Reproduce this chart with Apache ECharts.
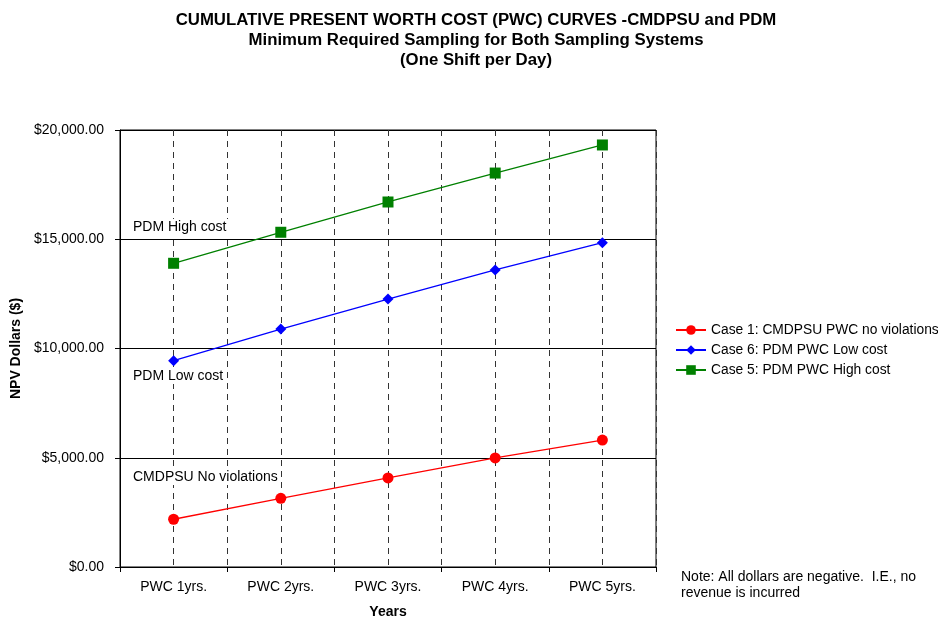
<!DOCTYPE html>
<html><head><meta charset="utf-8">
<script src="https://cdn.jsdelivr.net/npm/echarts@6/dist/echarts.min.js"></script>
<style>html,body{margin:0;padding:0;background:#fff}#c{width:938px;height:620px}</style>
</head><body><div id="c"></div>
<script>
const categories = ['PWC 1yrs.', 'PWC 2yrs.', 'PWC 3yrs.', 'PWC 4yrs.', 'PWC 5yrs.'];
const case1 = [2185, 3145, 4075, 4990, 5810];
const case6 = [9445, 10890, 12265, 13595, 14845];
const case5 = [13900, 15320, 16705, 18030, 19315];
const seriesNames = ['Case 1: CMDPSU PWC no violations', 'Case 6: PDM PWC Low cost', 'Case 5: PDM PWC High cost'];
const yTicks = [0, 5000, 10000, 15000, 20000];

const F = 'Liberation Sans, Arial, sans-serif';
const FS = 14;
const chart = echarts.init(document.getElementById('c'));
chart.setOption({
  backgroundColor: '#fff',
  animation: false,
  title: {
    text: 'CUMULATIVE PRESENT WORTH COST (PWC) CURVES -CMDPSU and PDM\nMinimum Required Sampling for Both Sampling Systems\n(One Shift per Day)',
    left: 471, top: 5, textAlign: 'center',
    textStyle: { fontFamily: F, fontSize: 16.8, fontWeight: 'bold', color: '#000', lineHeight: 20 }
  },
  grid: { left: 120, right: 282, top: 130, bottom: 53, show: true, borderColor: '#000', borderWidth: 1,
    containLabel: false, outerBoundsMode: 'none' },
  legend: {
    orient: 'vertical', left: 670, top: 318, itemWidth: 30, itemHeight: 12, itemGap: 6,
    data: seriesNames,
    textStyle: { fontFamily: F, fontSize: 13.8, color: '#000' }
  },
  xAxis: [{
    type: 'category', data: categories, boundaryGap: true,
    name: 'Years', nameLocation: 'middle', nameGap: 38,
    nameTextStyle: { fontFamily: F, fontSize: FS, fontWeight: 'bold', color: '#000' },
    axisLine: { lineStyle: { color: '#000', width: 1 } },
    axisTick: { show: true, length: 5, alignWithLabel: false, lineStyle: { color: '#000' } },
    axisLabel: { fontFamily: F, fontSize: FS, color: '#000', margin: 13 },
    splitLine: { show: false }
  }, {
    type: 'value', min: 0, max: 10, interval: 1, position: 'bottom',
    axisLine: { show: false }, axisTick: { show: false }, axisLabel: { show: false },
    splitLine: { show: true, lineStyle: { color: '#333', type: [6, 5], width: 1 } }
  }],
  yAxis: {
    type: 'value', min: yTicks[0], max: yTicks[yTicks.length - 1], interval: yTicks[1] - yTicks[0],
    name: 'NPV Dollars ($)', nameLocation: 'middle', nameGap: 89, nameRotate: 90,
    nameTextStyle: { fontFamily: F, fontSize: FS, fontWeight: 'bold', color: '#000' },
    axisLine: { show: true, lineStyle: { color: '#000', width: 1 } },
    axisTick: { show: true, length: 5, lineStyle: { color: '#000' } },
    axisLabel: {
      fontFamily: F, fontSize: FS, color: '#000', margin: 16,
      formatter: v => '$' + v.toLocaleString('en-US', { minimumFractionDigits: 2, maximumFractionDigits: 2 })
    },
    splitLine: { show: true, lineStyle: { color: '#000', width: 1 } }
  },
  series: [
    { name: seriesNames[0], type: 'line', data: case1, xAxisIndex: 0, symbol: 'circle', symbolSize: 11,
      itemStyle: { color: '#ff0000' }, lineStyle: { color: '#ff0000', width: 1.3 }, z: 5 },
    { name: seriesNames[1], type: 'line', data: case6, xAxisIndex: 0, symbol: 'diamond', symbolSize: 11,
      itemStyle: { color: '#0000ff' }, lineStyle: { color: '#0000ff', width: 1.3 }, z: 5 },
    { name: seriesNames[2], type: 'line', data: case5, xAxisIndex: 0, symbol: 'rect', symbolSize: 11,
      itemStyle: { color: '#008000' }, lineStyle: { color: '#008000', width: 1.3 }, z: 5 }
  ],
  graphic: [
    { type: 'text', left: 130, top: 219, z: 3, style: { text: 'PDM High cost', fontFamily: F, fontSize: FS, fill: '#000', backgroundColor: '#fff', padding: [1, 3] } },
    { type: 'text', left: 130, top: 368, z: 3, style: { text: 'PDM Low cost', fontFamily: F, fontSize: FS, fill: '#000', backgroundColor: '#fff', padding: [1, 3] } },
    { type: 'text', left: 130, top: 469, z: 3, style: { text: 'CMDPSU No violations', fontFamily: F, fontSize: FS, fill: '#000', backgroundColor: '#fff', padding: [1, 3] } },
    { type: 'text', left: 681, top: 569, style: { text: 'Note: All dollars are negative.  I.E., no\nrevenue is incurred', fontFamily: F, fontSize: FS, fill: '#000', lineHeight: 16 } }
  ]
});
</script></body></html>
